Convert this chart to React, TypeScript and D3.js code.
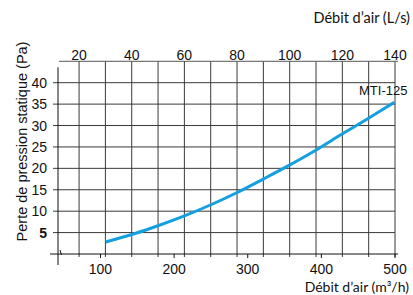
import React from "react";
import * as d3 from "d3";

const flowM3h = [107, 149, 178, 214, 250, 285, 321, 356, 393, 428, 464, 499];
const pressurePa = [2.8, 4.9, 6.6, 8.9, 11.5, 14.3, 17.5, 20.7, 24.3, 28.0, 31.7, 35.4];
const bottomTicks = [100, 200, 300, 400, 500];
const topTicks = [20, 40, 60, 80, 100, 120, 140];
const topGrid = [20, 30, 40, 50, 60, 70, 80, 90, 100, 110, 120, 130, 140];
const yTicks = [5, 10, 15, 20, 25, 30, 35, 40];
const seriesName = "MTI-125";

const W = 413;
const H = 295;
const left = 58;
const right = 395;
const bottom = 254;

const narrow = "'Liberation Sans Narrow', 'Arial Narrow', 'Liberation Sans', Arial, sans-serif";
const sans = "'Liberation Sans', Arial, sans-serif";
const cal = "Lato, 'Open Sans', sans-serif";

export default function App() {
  const x = d3.scaleLinear().domain([42.3, 500]).range([left, right]);
  const xTop = d3.scaleLinear().domain([12, 140]).range([left, right]);
  const y = d3.scaleLinear().domain([0, 40]).range([bottom, 82.7]);
  const top = y(45);
  const line = d3
    .line<number>()
    .x((_, i) => x(flowM3h[i]))
    .y((d) => y(d))
    .curve(d3.curveCatmullRom.alpha(0.5));
  const grid = "#3a3a3a";
  return (
    <svg width={W} height={H} style={{ position: "absolute", left: 0, top: 0, background: "#fff" }}>
      {topGrid.map((t) => (
        <line key={"v" + t} x1={xTop(t)} x2={xTop(t)} y1={top} y2={bottom + 3} stroke={grid} strokeWidth={1} />
      ))}
      {yTicks.map((t) => (
        <line key={"h" + t} x1={left - 5} x2={right} y1={y(t)} y2={y(t)} stroke={grid} strokeWidth={1} />
      ))}
      <line x1={left + 1} x2={right + 3} y1={top} y2={top} stroke="#555" strokeWidth={1} />
      <line x1={left} x2={left} y1={top + 6} y2={bottom + 11} stroke="#111" strokeWidth={1} />
      <line x1={left - 8} x2={right + 3} y1={bottom} y2={bottom} stroke="#111" strokeWidth={1} />
      <path d={`M${left + 2},${bottom - 4} L${left + 3.5},${bottom + 1}`} stroke="#111" strokeWidth={1} fill="none" />
      {bottomTicks.map((t) => (
        <line key={"bt" + t} x1={x(t)} x2={x(t)} y1={bottom} y2={bottom + 4} stroke="#111" strokeWidth={1} />
      ))}
      <path d={line(pressurePa) || ""} fill="none" stroke="#139fe0" strokeWidth={3} />
      {yTicks.map((t) => (
        <text
          key={"yl" + t}
          x={47}
          y={y(t) + 5}
          textAnchor="end"
          fontFamily={narrow}
          fontSize={14}
          fontWeight={t === 5 ? "bold" : "normal"}
          fill="#111"
        >
          {t}
        </text>
      ))}
      {topTicks.map((t) => (
        <text key={"tl" + t} x={xTop(t)} y={59.5} textAnchor="middle" fontFamily={narrow} fontSize={14} fill="#111">
          {t}
        </text>
      ))}
      {bottomTicks.map((t) => (
        <text key={"bl" + t} x={x(t)} y={274} textAnchor="middle" fontFamily={narrow} fontSize={14} fill="#111">
          {t}
        </text>
      ))}
      <text x={359} y={95} fontFamily={sans} fontSize={13} fill="#111">
        {seriesName}
      </text>
      <text x={410} y={23} textAnchor="end" fontFamily={cal} fontSize={14.5} fill="#111">
        Débit d’air (L/s)
      </text>
      <text x={409} y={292} textAnchor="end" fontFamily={cal} fontSize={14} fill="#111">
        Débit d’air (m³/h)
      </text>
      <text
        transform={`translate(27,${141.5}) rotate(-90)`}
        textAnchor="middle"
        fontFamily={sans}
        fontSize={14.5}
        fill="#111"
      >
        Perte de pression statique (Pa)
      </text>
    </svg>
  );
}
